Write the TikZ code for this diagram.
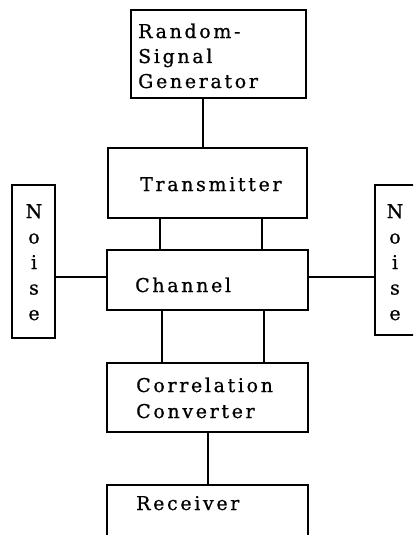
\documentclass[tikz,border=0pt]{standalone}
\usepackage{fontspec}
\setmainfont{DejaVu Serif}[LetterSpace=14,FakeBold=0.8]
\begin{document}
\begin{tikzpicture}[x=1pt,y=-1pt,
  box/.style={draw,line width=1.4pt,rectangle,inner sep=0pt},
  lbl/.style={anchor=base west,inner sep=0pt,font=\fontsize{19}{25}\selectfont},
  vlbl/.style={inner sep=0pt,font=\fontsize{19}{25.5}\selectfont,align=center},
  wire/.style={line width=1.4pt}]
\useasboundingbox (0,0) rectangle (413,535);
\clip (0,0) rectangle (413,535);
% boxes
\node[box,minimum width=175pt,minimum height=88pt] (rsg) at (218.5,54) {};
\node[box,minimum width=199pt,minimum height=70pt] (tx) at (207.5,183) {};
\node[box,minimum width=201pt,minimum height=60pt] (ch) at (207.5,280) {};
\node[box,minimum width=201pt,minimum height=69pt] (cc) at (207.5,397.5) {};
\node[box,minimum width=201pt,minimum height=80pt] (rx) at (207.5,525) {};
\node[box,minimum width=43pt,minimum height=153pt] (nl) at (33.5,261.5) {};
\node[box,minimum width=43pt,minimum height=150pt] (nr) at (396.5,260) {};
% texts
\node[lbl] (trsga) at (138,38) {Random-};
\node[lbl] (trsgb) at (138,63) {Signal};
\node[lbl] (trsgc) at (138,88) {Generator};
\node[lbl] (ttx) at (140,191) {Transmitter};
\node[lbl] (tch) at (135,292) {Channel};
\node[lbl] (tcca) at (136,392) {Correlation};
\node[lbl] (tccb) at (136,418) {Converter};
\node[lbl] (trx) at (136,510) {Receiver};
\node[vlbl,anchor=north] (tnl) at (34,204) {N\\o\\i\\s\\e};
\node[vlbl,anchor=north] (tnr) at (395,204) {N\\o\\i\\s\\e};
% connectors
\draw[wire] (rsg.south -| 203,0) -- (tx.north -| 203,0);
\draw[wire] (tx.south -| 160,0) -- (ch.north -| 160,0);
\draw[wire] (tx.south -| 262,0) -- (ch.north -| 262,0);
\draw[wire] (ch.south -| 162,0) -- (cc.north -| 162,0);
\draw[wire] (ch.south -| 264,0) -- (cc.north -| 264,0);
\draw[wire] (cc.south -| 208,0) -- (rx.north -| 208,0);
\draw[wire] (nl.east |- 0,277) -- (ch.west |- 0,277);
\draw[wire] (ch.east |- 0,277) -- (nr.west |- 0,277);
\end{tikzpicture}
\end{document}
